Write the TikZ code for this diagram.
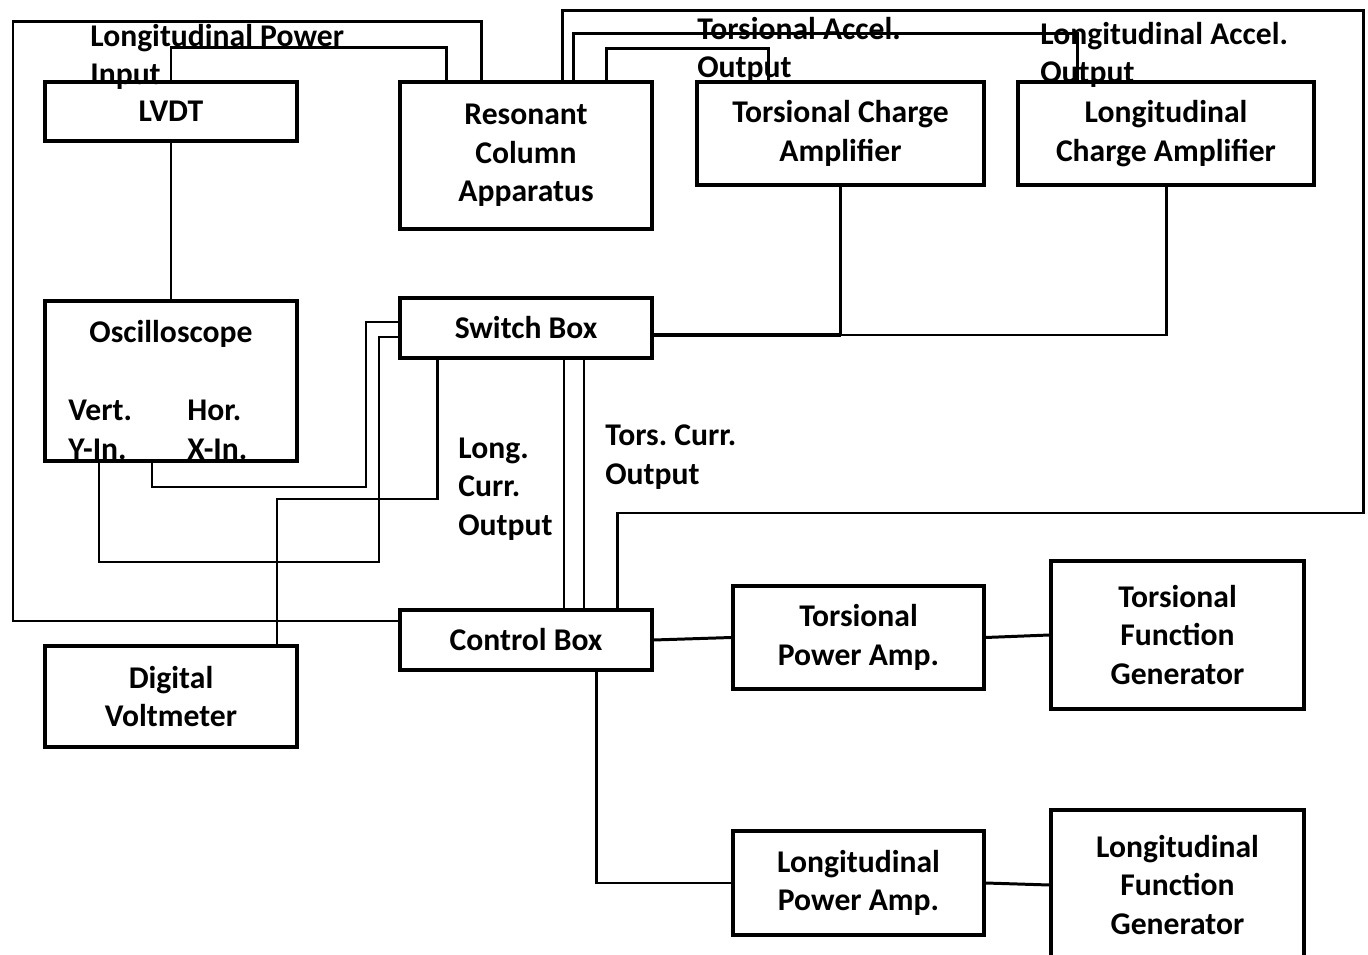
\documentclass[tikz,border=0pt]{standalone}
\usepackage{fontspec}
\setmainfont{Carlito}
\frenchspacing
\begin{document}
\begin{tikzpicture}[x=0.02cm,y=-0.02cm]
    \tikzstyle{unit}=[draw,line width=1.8pt,align=center,inner sep=0pt,font=\fontsize{18}{22}\selectfont\bfseries]
    \tikzstyle{tag}=[align=left,anchor=west,inner sep=0pt,font=\fontsize{18}{22}\selectfont\bfseries]
    \tikzstyle{wire}=[line width=1.7pt]
    \tikzstyle{thin wire}=[line width=1pt]

    \useasboundingbox (0,0) rectangle (1368,955);

    % top row
    \node[unit, minimum width=5.04cm, minimum height=1.18cm] (lvdt) at (171,111.5) {LVDT};
    \node[unit, minimum width=5.04cm, minimum height=2.94cm] (rca) at (526,155.5) {Resonant\\Column\\Apparatus};
    \node[unit, minimum width=5.74cm, minimum height=2.06cm] (tca) at (840.5,133.5) {Torsional Charge\\Amplifier};
    \node[unit, minimum width=5.92cm, minimum height=2.06cm] (lca) at (1166,133.5) {Longitudinal\\Charge Amplifier};

    % middle
    \node[unit, minimum width=5.04cm, minimum height=3.2cm] (osc) at (171,381) {};
    \node[tag, anchor=center] (osc-title) at (171,334) {Oscilloscope};
    \node[tag] (osc-y) at (68,430) {Vert.\\Y-In.};
    \node[tag] (osc-x) at (187,430) {Hor.\\X-In.};
    \node[unit, minimum width=5.04cm, minimum height=1.2cm] (switch) at (526,328) {Switch Box};
    \node[unit, minimum width=5.04cm, minimum height=1.2cm] (control) at (526,640) {Control Box};
    \node[unit, minimum width=5.04cm, minimum height=2.02cm] (dvm) at (171,696.5) {Digital\\Voltmeter};

    % power amplifiers and function generators
    \node[unit, minimum width=5.02cm, minimum height=2.06cm] (tpa) at (858.5,637.5) {Torsional\\Power Amp.};
    \node[unit, minimum width=5.06cm, minimum height=2.96cm] (tfg) at (1177.5,635) {Torsional\\Function\\Generator};
    \node[unit, minimum width=5.06cm, minimum height=3.0cm] (lfg) at (1177.5,885) {Longitudinal\\Function\\Generator};
    \node[unit, minimum width=5.02cm, minimum height=2.08cm] (lpa) at (858.5,883) {Longitudinal\\Power Amp.};

    % labels on the wires
    \node[tag] (lpi) at (90,57) {Longitudinal Power\\Input};
    \node[tag] (tao) at (697,50) {Torsional Accel.\\Output};
    \node[tag] (lao) at (1040,55) {Longitudinal Accel.\\Output};
    \node[tag] (lco) at (458,489) {Long.\\Curr.\\Output};
    \node[tag] (tco) at (605,457) {Tors. Curr.\\Output};

    % wires round the resonant column
    \draw[thin wire] (lvdt.south) -- (osc.north);
    \draw[wire] (lvdt.north) -- ++(0,-33) -| (446,0 |- rca.north);
    \draw[wire] (481,0 |- rca.north) |- (13,22) |- (control.west |- 0,621);
    \draw[wire] (562,0 |- rca.north) |- (1363,11) |- (617,513) -- (617,0 |- control.north);
    \draw[wire] (573,0 |- rca.north) |- (1077,34) -- (1077,0 |- lca.north);
    \draw[wire] (606,0 |- rca.north) |- (768,49) -- (768,0 |- tca.north);

    % charge amplifiers to the switch box
    \draw[wire] (tca.south) -- (tca.south |- 0,335);
    \draw[wire] (lca.south) |- (switch.east |- 0,335);
    \draw[line width=2.6pt] (switch.east |- 0,335) -- (tca.south |- 0,335);

    % oscilloscope and voltmeter to the switch box
    \draw[wire] (152,0 |- osc.south) |- (366,487) |- (switch.west |- 0,322);
    \draw[wire] (99,0 |- osc.south) |- (379,562) |- (switch.west |- 0,337);
    \draw[wire] (277,0 |- dvm.north) |- (437,499) -- (437,0 |- switch.south);

    % switch box to control box
    \foreach \x in {564,584}
    \draw[thin wire] (\x,0 |- switch.south) -- (\x,0 |- control.north);

    % control box to the amplifiers
    \draw[wire] (control.east) -- (tpa.west);
    \draw[wire] (tpa.east) -- (tfg.west);
    \draw[wire] (596,0 |- control.south) |- (lpa.west);
    \draw[wire] (lpa.east) -- (lfg.west);
\end{tikzpicture}
\end{document}
